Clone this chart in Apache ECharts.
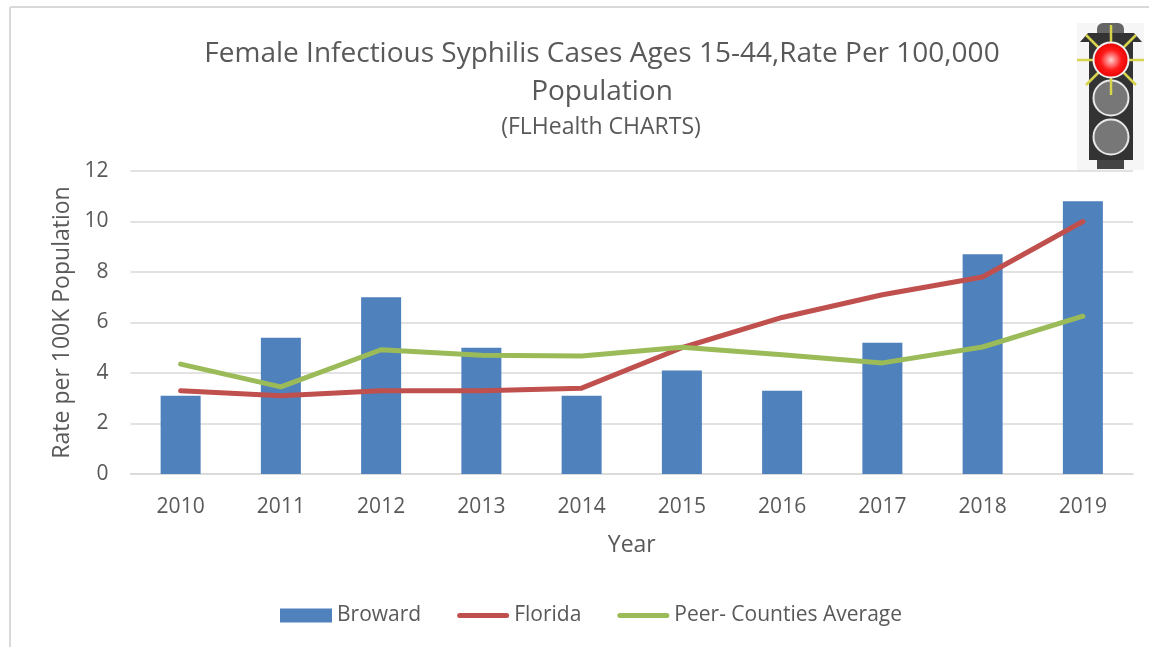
<!DOCTYPE html>
<html><head><meta charset="utf-8">
<style>html,body{margin:0;padding:0;background:#fff}#c{width:1149px;height:647px}</style>
<script src="https://cdn.jsdelivr.net/npm/echarts@6/dist/echarts.min.js"></script>
</head><body><div id="c"></div>
<script>
const years = ['2010','2011','2012','2013','2014','2015','2016','2017','2018','2019'];
const broward = [3.1,5.4,7.0,5.0,3.1,4.1,3.3,5.2,8.7,10.8];
const florida = [3.3,3.1,3.3,3.3,3.4,5.0,6.2,7.1,7.8,10.0];
const peers = [4.35,3.45,4.92,4.7,4.67,5.02,4.72,4.4,5.03,6.25];
const yTicks = {min:0,max:12,interval:2};
const font = '"Open Sans", sans-serif';
const grey = '#595959';
const chart = echarts.init(document.getElementById('c'));
const lineIcon = 'path://M2.5 0H49.5A2.5 2.5 0 0 1 49.5 5H2.5A2.5 2.5 0 0 1 2.5 0Z';
function lamp(cy, fill){
  return {type:'circle',shape:{cx:1111,cy:cy,r:17.5},style:{fill:fill,stroke:'#e8e8e8',lineWidth:2}};
}
const rays = [[1111,25,1111,95],[1077,60,1144,60],[1086,35,1136,85],[1136,35,1086,85]].map(r=>({
  type:'line',shape:{x1:r[0],y1:r[1],x2:r[2],y2:r[3]},style:{stroke:'#d8d44e',lineWidth:2.5},z:3}));
chart.setOption({
  animation:false,
  backgroundColor:'#fff',
  textStyle:{fontFamily:font},
  title:[
    {text:'Female Infectious Syphilis Cases Ages 15-44,Rate Per 100,000\nPopulation',left:597,top:30,textAlign:'center',
     textStyle:{fontFamily:font,fontSize:28,fontWeight:'normal',color:grey,lineHeight:38}},
    {text:'(FLHealth CHARTS)',left:596,top:111,textAlign:'center',
     textStyle:{fontFamily:font,fontSize:23,fontWeight:'normal',color:grey}}
  ],
  grid:{left:130.5,right:16,top:171,bottom:173,containLabel:false},
  legend:{top:600,left:275,itemGap:36,itemWidth:52,itemHeight:14,
    textStyle:{fontFamily:font,fontSize:21,color:grey},
    data:[{name:'Broward',icon:'rect'},{name:'Florida',icon:lineIcon},{name:'Peer- Counties Average',icon:lineIcon}]},
  xAxis:{type:'category',data:years,name:'Year',nameLocation:'middle',nameGap:60,
    nameTextStyle:{fontFamily:font,fontSize:23,color:grey},
    axisLine:{lineStyle:{color:'#d9d9d9',width:1.5}},axisTick:{show:false},
    axisLabel:{fontFamily:font,fontSize:21,color:grey,margin:23}},
  yAxis:{type:'value',...yTicks,name:'Rate per 100K Population',nameLocation:'middle',nameGap:56,
    nameTextStyle:{fontFamily:font,fontSize:23,color:grey},
    axisLine:{show:false},axisTick:{show:false},
    splitLine:{lineStyle:{color:'#d9d9d9',width:1.5}},
    axisLabel:{fontFamily:font,fontSize:21,color:grey,margin:22}},
  series:[
    {name:'Broward',type:'bar',data:broward,barWidth:40,itemStyle:{color:'#4f81bd'}},
    {name:'Florida',type:'line',data:florida,symbol:'none',lineStyle:{color:'#c0504d',width:5,cap:'round',join:'round'},itemStyle:{color:'#c0504d'}},
    {name:'Peer- Counties Average',type:'line',data:peers,symbol:'none',lineStyle:{color:'#9bbb59',width:5,cap:'round',join:'round'},itemStyle:{color:'#9bbb59'}}
  ],
  graphic:{elements:[
    {type:'line',shape:{x1:10,y1:7,x2:1149,y2:7},style:{stroke:'#d9d9d9',lineWidth:2},silent:true},
    {type:'line',shape:{x1:10,y1:7,x2:10,y2:647},style:{stroke:'#d9d9d9',lineWidth:2},silent:true},
    {type:'rect',shape:{x:1077,y:23,width:67,height:147},style:{fill:'#f6f6f6'}},
    {type:'rect',shape:{x:1097,y:23,width:27,height:12,r:[6,6,0,0]},style:{fill:'#666'}},
    {type:'polygon',shape:{points:[[1080,42],[1088,33],[1134,33],[1142,42]]},style:{fill:'#333'}},
    {type:'rect',shape:{x:1089,y:33,width:44,height:127},style:{fill:'#333'}},
    {type:'rect',shape:{x:1097,y:160,width:27,height:9},style:{fill:'#444'}},
    {...lamp(98,'#777777'),z:2},
    {...lamp(137,'#777777'),z:2},
    ...rays,
    {type:'circle',z:4,shape:{cx:1111,cy:60,r:17.5},style:{
      fill:{type:'radial',x:0.5,y:0.5,r:0.5,colorStops:[{offset:0,color:'#ffd0d0'},{offset:0.55,color:'#ff1a1a'},{offset:1,color:'#e60000'}]},
      stroke:'#eeeeee',lineWidth:2}}
  ]}
});
</script></body></html>
